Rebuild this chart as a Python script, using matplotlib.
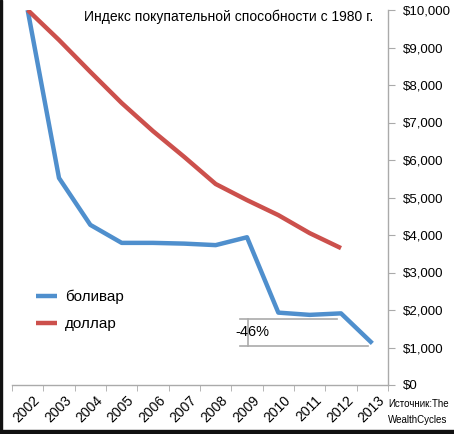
import numpy as np
import matplotlib.pyplot as plt
from matplotlib.patches import Rectangle
from matplotlib.ticker import FuncFormatter, FixedLocator
from matplotlib.transforms import ScaledTranslation

years = ['2002', '2003', '2004', '2005', '2006', '2007', '2008', '2009',
         '2010', '2011', '2012', '2013']
bolivar = [10000, 5520, 4270, 3790, 3790, 3770, 3730, 3940, 1930, 1870, 1910, 1110]
dollar = [10000, 9200, 8350, 7520, 6770, 6080, 5360, 4930, 4530, 4050, 3650]

title = 'Индекс покупательной способности с 1980 г.'
source = 'Источник:The\nWealthCycles'
drop_label = '-46%'

plt.rcParams['font.family'] = ['Liberation Sans', 'DejaVu Sans']

fig = plt.figure(figsize=(4.54, 4.34), dpi=100)
ax = fig.add_axes([12/454, 1-385/434, 376/454, 375/434])

x = np.arange(len(years))
ax.plot(x, bolivar, color='#4f8fcd', lw=3.2, solid_capstyle='butt', label='боливар')
ax.plot(x[:len(dollar)], dollar, color='#cc504c', lw=3.2, solid_capstyle='butt', label='доллар')

ax.set_xlim(-0.5, len(years) - 0.5)
ax.set_ylim(0, 10000)

for s in ['left', 'top']:
    ax.spines[s].set_visible(False)
for s in ['bottom', 'right']:
    ax.spines[s].set_color('#aaaaaa')
    ax.spines[s].set_linewidth(1.0)

ax.yaxis.tick_right()
ax.set_yticks(np.arange(0, 10001, 1000))
ax.yaxis.set_major_formatter(FuncFormatter(lambda v, p: '${:,.0f}'.format(v)))
ax.tick_params(axis='y', length=5, color='#aaaaaa', labelsize=9.5, pad=6)

ax.set_xticks(x)
ax.set_xticklabels(years, rotation=45, ha='right', rotation_mode='anchor', fontsize=10)
ax.xaxis.set_minor_locator(FixedLocator(np.arange(-0.5, len(years), 1)))
ax.tick_params(axis='x', which='major', length=0, pad=6)
ax.tick_params(axis='x', which='minor', length=4, color='#aaaaaa')
shift = ScaledTranslation(5/100, 0, fig.dpi_scale_trans)
for lbl in ax.get_xticklabels():
    lbl.set_transform(lbl.get_transform() + shift)

# drop annotation
ax.plot([6.78, 9.87], [1760, 1760], color='#aaaaaa', lw=1.2)
ax.plot([6.78, 10.86], [1040, 1040], color='#aaaaaa', lw=1.2)
ax.plot([7.03, 7.03], [1040, 1760], color='#aaaaaa', lw=1.2)
ax.text(6.62, 1400, drop_label, fontsize=10.5, va='center', ha='left')

ax.legend(loc='upper left', bbox_to_anchor=(0.027, 0.29), frameon=False,
          fontsize=11, handlelength=1.4, handletextpad=0.5, labelspacing=0.85)

fig.text(84/454, 1-17/434, title, fontsize=10, va='center', ha='left')
fig.text(388/454, 1-412/434, source, fontsize=7, va='center', ha='left', linespacing=1.7)

fig.patches.append(Rectangle((0, 0), 2/454, 1, transform=fig.transFigure, color='#111111', zorder=10))
fig.patches.append(Rectangle((0, 0), 1, 4/434, transform=fig.transFigure, color='#111111', zorder=10))

fig.savefig('out.png', dpi=100)
